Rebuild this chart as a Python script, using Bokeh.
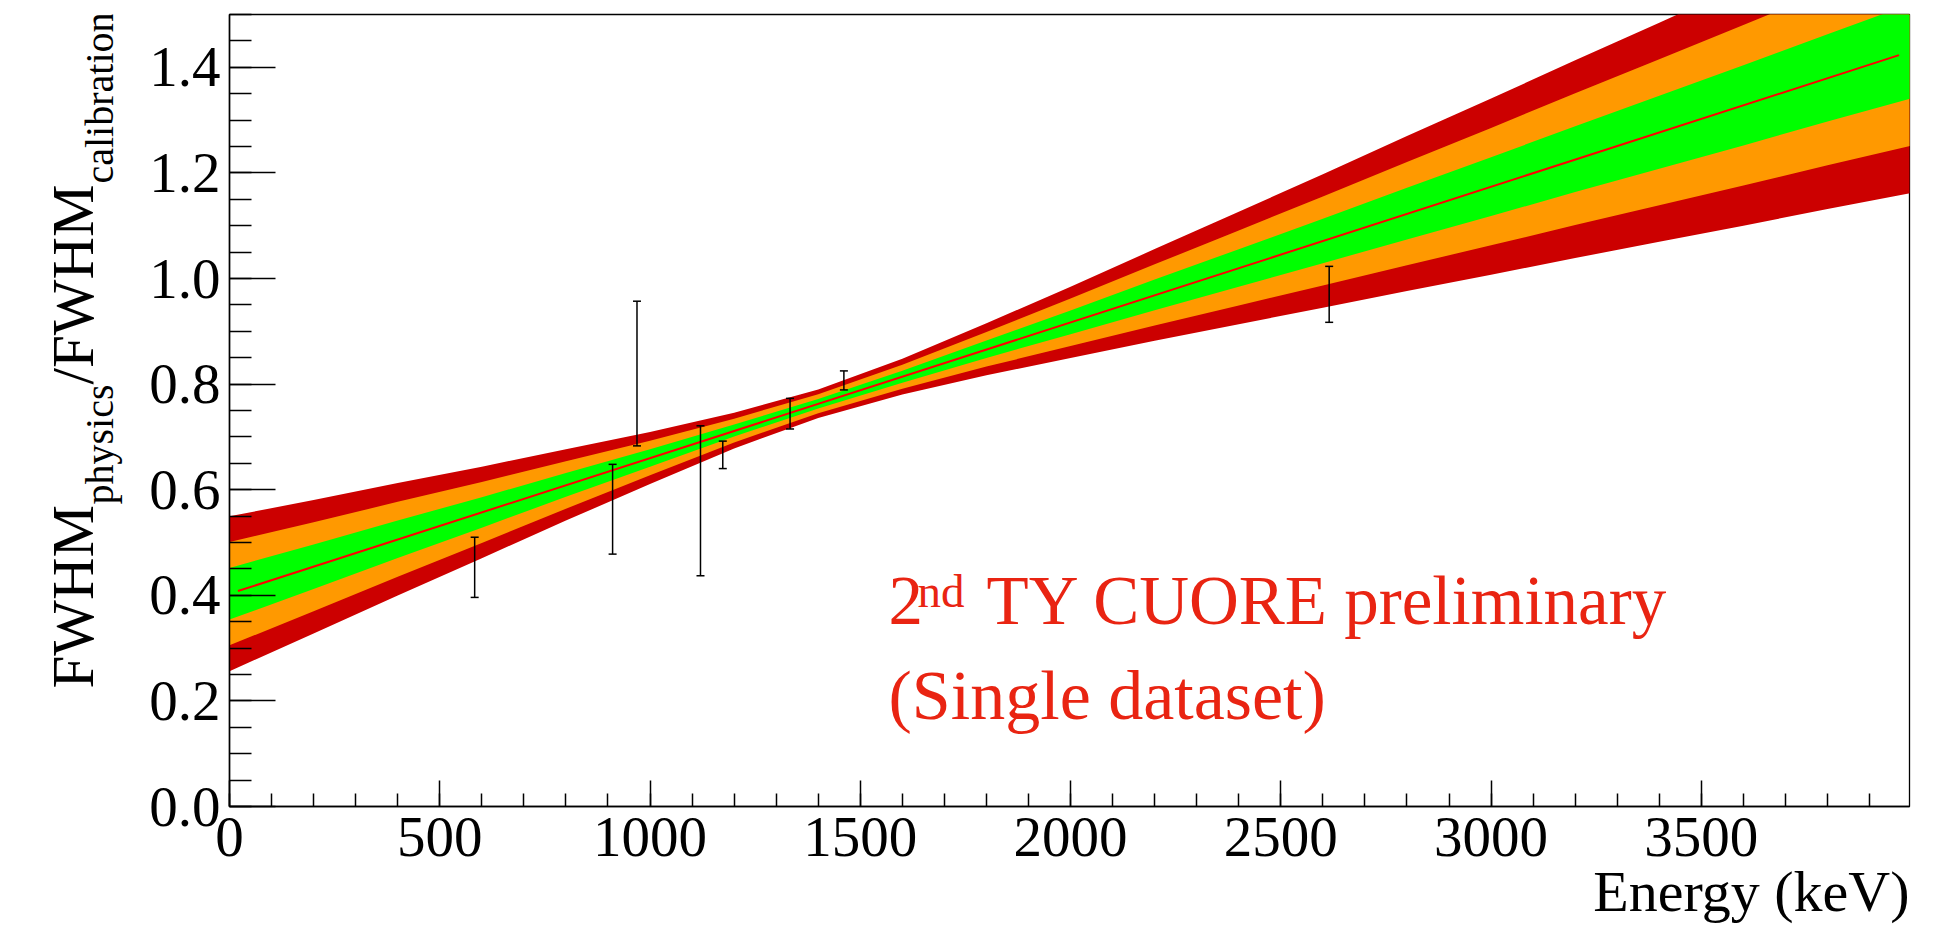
from bokeh.plotting import figure
from bokeh.layouts import row
from bokeh.models import (ColumnDataSource, Range1d, FixedTicker, PrintfTickFormatter,
                          Whisker, TeeHead, Label, Title)
from bokeh.embed import file_html
from bokeh.resources import INLINE

# Gamma peaks used for the comparison (keV) and FWHM ratio physics / calibration
peak_energy = [583, 911, 969, 1120, 1173, 1333, 1461, 2615]
fwhm_ratio = [0.453, 0.563, 0.820, 0.579, 0.666, 0.744, 0.807, 0.970]
fwhm_ratio_err = [0.057, 0.085, 0.137, 0.142, 0.026, 0.029, 0.018, 0.053]

# Linear fit over its fitted range
fit_energy = [20, 3970]
fit_ratio = [0.408, 1.423]

# Confidence band of the fit: centre and 1-sigma half-width
band_energy = [0, 200, 400, 600, 800, 1000, 1200, 1400, 1600, 1800, 2000,
               2200, 2400, 2600, 2800, 3000, 3200, 3400, 3600, 3800, 4000]
band_center = [0.403, 0.454, 0.506, 0.557, 0.609, 0.660, 0.712, 0.763, 0.814, 0.866, 0.917,
               0.969, 1.020, 1.071, 1.123, 1.174, 1.226, 1.277, 1.328, 1.380, 1.431]
band_sigma = [0.0489, 0.0421, 0.0355, 0.0289, 0.0225, 0.0164, 0.0113, 0.0090, 0.0113, 0.0164, 0.0225,
              0.0289, 0.0355, 0.0421, 0.0489, 0.0556, 0.0624, 0.0692, 0.0760, 0.0828, 0.0896]

# 3, 2, 1 sigma colours
band_levels = [3, 2, 1]
band_colors = ["#cc0000", "#ff9900", "#00ff00"]

x_major = [0, 500, 1000, 1500, 2000, 2500, 3000, 3500]
x_minor = [v for v in range(0, 4000, 100)]
y_major = [0.0, 0.2, 0.4, 0.6, 0.8, 1.0, 1.2, 1.4]
y_minor = [round(0.05 * i, 2) for i in range(0, 31)]

FONT = "Liberation Serif"
RED_TEXT = "#e92412"
TITLE_W = 135          # strip holding the vertical axis title
H = 929
BORDER_TOP = 14
BORDER_BOTTOM = 123
FRAME_BOTTOM = H - BORDER_BOTTOM

p = figure(width=1948 - TITLE_W, height=H, output_backend="svg", toolbar_location=None,
           x_range=Range1d(0, 3995), y_range=Range1d(0, 1.5),
           min_border_left=229 - TITLE_W, min_border_right=39, min_border_top=BORDER_TOP,
           min_border_bottom=BORDER_BOTTOM,
           background_fill_color="white", border_fill_color="white")
p.grid.visible = False
p.outline_line_color = "black"
p.outline_line_width = 1.3

# bands, widest first
for k, col in zip(band_levels, band_colors):
    lo = [c - k * s for c, s in zip(band_center, band_sigma)]
    hi = [c + k * s for c, s in zip(band_center, band_sigma)]
    p.varea(x=band_energy, y1=lo, y2=hi, fill_color=col, fill_alpha=1.0)

p.line(fit_energy, fit_ratio, line_color="#ff0000", line_width=2)

# error bars drawn on top of the bands
src = ColumnDataSource(dict(
    e=peak_energy,
    lower=[r - d for r, d in zip(fwhm_ratio, fwhm_ratio_err)],
    upper=[r + d for r, d in zip(fwhm_ratio, fwhm_ratio_err)],
))
p.add_layout(Whisker(source=src, base="e", lower="lower", upper="upper", dimension="height",
                     level="overlay", line_color="black", line_width=1.5,
                     upper_head=TeeHead(size=8, line_color="black", line_width=1.5),
                     lower_head=TeeHead(size=8, line_color="black", line_width=1.5)))

# axes
xa = p.xaxis[0]
xa.ticker = FixedTicker(ticks=x_major, minor_ticks=x_minor)
xa.major_tick_in = 26
xa.major_tick_out = 0
xa.minor_tick_in = 13
xa.minor_tick_out = 0
xa.major_label_standoff = 11

ya = p.yaxis[0]
ya.ticker = FixedTicker(ticks=y_major, minor_ticks=y_minor)
ya.formatter = PrintfTickFormatter(format="%.1f")
ya.major_tick_in = 46
ya.major_tick_out = 0
ya.minor_tick_in = 22
ya.minor_tick_out = 0
ya.major_label_standoff = 9

for ax in (xa, ya):
    ax.axis_line_color = "black"
    ax.axis_line_width = 1.5
    ax.major_tick_line_color = "black"
    ax.major_tick_line_width = 1.5
    ax.minor_tick_line_color = "black"
    ax.minor_tick_line_width = 1.5
    ax.major_label_text_font = FONT
    ax.major_label_text_font_size = "57px"
    ax.major_label_text_color = "black"

# x-axis title, right aligned under the frame edge
p.add_layout(Title(text="Energy (keV)", align="right", vertical_align="top", offset=0,
                   standoff=0, text_font=FONT, text_font_size="58px",
                   text_font_style="normal", text_color="black"), "below")

# baseline correction for Label text, proportional to font size
BASE = 0.31


def add_text(fig, text, x, y, size, color="black", rotated=False):
    shift = BASE * size
    if rotated:
        fig.add_layout(Label(x=x - shift, y=y, x_units="screen", y_units="screen", text=text,
                             text_font=FONT, text_font_size=f"{size}px", text_color=color,
                             angle=1.5707963, text_align="left", text_baseline="alphabetic"))
    else:
        fig.add_layout(Label(x=x, y=y + shift, x_units="screen", y_units="screen", text=text,
                             text_font=FONT, text_font_size=f"{size}px", text_color=color,
                             text_align="left", text_baseline="alphabetic"))


# annotation inside the frame (positions from the frame's lower-left corner)
add_text(p, "2", 659, FRAME_BOTTOM - 622, 69, color=RED_TEXT)
add_text(p, "nd", 688, FRAME_BOTTOM - 605, 47, color=RED_TEXT)
add_text(p, "TY CUORE preliminary", 757, FRAME_BOTTOM - 622, 69, color=RED_TEXT)
add_text(p, "(Single dataset)", 659, FRAME_BOTTOM - 717, 70, color=RED_TEXT)

# vertical axis title with subscripts, reading upward
t = figure(width=TITLE_W, height=H, output_backend="svg", toolbar_location=None,
           x_range=Range1d(0, TITLE_W), y_range=Range1d(0, H),
           x_axis_location=None, y_axis_location=None,
           min_border_left=0, min_border_right=0,
           min_border_top=BORDER_TOP, min_border_bottom=BORDER_BOTTOM,
           background_fill_color="white", border_fill_color="white")
t.grid.visible = False
t.outline_line_color = None
add_text(t, "FWHM", 91, FRAME_BOTTOM - 688, 59, rotated=True)
add_text(t, "physics", 111, FRAME_BOTTOM - 504, 40, rotated=True)
add_text(t, "/FWHM", 91, FRAME_BOTTOM - 384, 59, rotated=True)
add_text(t, "calibration", 111, FRAME_BOTTOM - 183, 40, rotated=True)

layout = row(t, p, spacing=0)
open("out.html", "w").write(file_html(layout, INLINE))
